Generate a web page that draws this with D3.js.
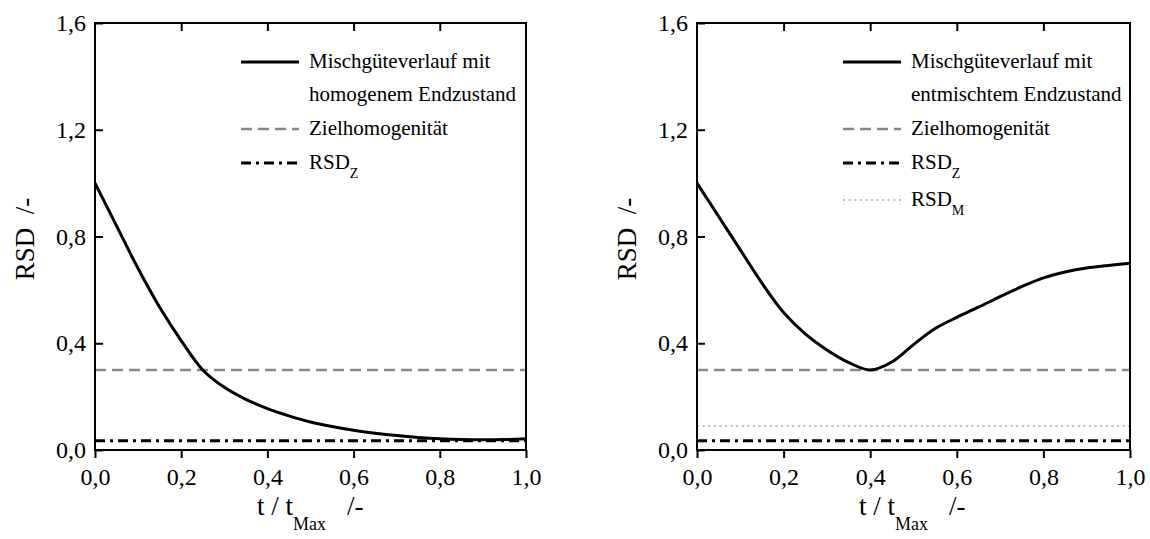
<!DOCTYPE html>
<html>
<head>
<meta charset="utf-8" />
<title>RSD</title>
<style>
  body { margin: 0; background: #fff; }
  svg text { font-family: "Liberation Serif", Tinos, "Times New Roman", Times, "DejaVu Serif", serif; fill: #000; }
</style>
</head>
<body>
<div id="chart"></div>
<script src="https://d3js.org/d3.v7.min.js"></script>
<script>
// values
const tValues = [0, 0.05, 0.1, 0.15, 0.2, 0.25, 0.3, 0.35, 0.4, 0.45, 0.5,
                 0.55, 0.6, 0.65, 0.7, 0.75, 0.8, 0.85, 0.9, 0.95, 1.0];
const rsdHomogen = [1.0, 0.84, 0.68, 0.535, 0.41, 0.30, 0.235, 0.19, 0.155, 0.128, 0.105,
                    0.088, 0.074, 0.063, 0.054, 0.047, 0.042, 0.039, 0.038, 0.039, 0.042];
const rsdEntmischt = [1.0, 0.875, 0.75, 0.625, 0.515, 0.435, 0.375, 0.328, 0.30, 0.33, 0.395,
                      0.455, 0.497, 0.535, 0.575, 0.612, 0.645, 0.667, 0.682, 0.691, 0.70];
const zielHomogenitaet = 0.3;
const rsdZ = 0.035;
const rsdM = 0.09;
const xTicks = [0, 0.2, 0.4, 0.6, 0.8, 1.0];
const yTicks = [0, 0.4, 0.8, 1.2, 1.6];

const W = 1150, H = 539;
const plotTop = 23, plotBottom = 450;
const serif = '"Liberation Serif", Tinos, "Times New Roman", Times, "DejaVu Serif", serif';

const de = d3.formatLocale({decimal: ",", thousands: ".", grouping: [3], currency: ["", " €"]});
const fmt = de.format(".1f");

const svg = d3.select("#chart").append("svg")
  .attr("width", W).attr("height", H)
  .style("font-family", serif);

const styles = {
  ziel: {stroke: "#888", width: 2.5, dash: "11,6"},
  z: {stroke: "#000", width: 3, dash: "10,5,3,5"},
  m: {stroke: "#bdbdbd", width: 2.2, dash: "2,3.6"}
};

function drawPanel(left, right, series, legendRows) {
  const x = d3.scaleLinear().domain([0, 1]).range([left, right]);
  const y = d3.scaleLinear().domain([0, 1.6]).range([plotBottom, plotTop]);
  const g = svg.append("g");

  // horizontal reference lines
  const hline = (v, st) => g.append("line")
    .attr("x1", x(0)).attr("x2", x(1))
    .attr("y1", y(v)).attr("y2", y(v))
    .attr("stroke", st.stroke).attr("stroke-width", st.width)
    .attr("stroke-dasharray", st.dash);
  hline(zielHomogenitaet, styles.ziel);
  if (legendRows.some(r => r.key === "m")) hline(rsdM, styles.m);
  hline(rsdZ, styles.z);

  // curve
  const line = d3.line()
    .x((d, i) => x(tValues[i]))
    .y(d => y(d))
    .curve(d3.curveCatmullRom.alpha(0.5));
  g.append("path")
    .datum(series)
    .attr("d", line)
    .attr("fill", "none")
    .attr("stroke", "#000")
    .attr("stroke-width", 3);

  // axes
  g.append("g").attr("transform", `translate(0,${plotBottom})`)
    .call(d3.axisBottom(x).tickValues(xTicks).tickFormat(fmt).tickSize(8).tickPadding(10));
  g.append("g").attr("transform", `translate(${left},0)`)
    .call(d3.axisLeft(y).tickValues(yTicks).tickFormat(fmt).tickSize(-8).tickPadding(9));
  g.append("g").attr("transform", `translate(0,${plotTop})`)
    .call(d3.axisTop(x).tickValues(xTicks.slice(1, -1)).tickFormat("").tickSize(-8));
  g.selectAll(".domain").remove();
  g.selectAll("g").attr("font-family", null).attr("font-size", null);
  g.selectAll(".tick line").attr("stroke", "#000").attr("stroke-width", 2);
  g.selectAll(".tick text").style("font-size", "24px").attr("fill", "#000");

  g.append("rect")
    .attr("x", left).attr("y", plotTop)
    .attr("width", right - left).attr("height", plotBottom - plotTop)
    .attr("fill", "none").attr("stroke", "#000").attr("stroke-width", 2);

  // axis titles
  g.append("text")
    .attr("transform", `translate(${left - 61},239) rotate(-90)`)
    .attr("text-anchor", "middle")
    .style("font-size", "27px")
    .style("white-space", "pre")
    .text("RSD  /-");

  const xt = g.append("text")
    .attr("x", left + 162).attr("y", 515)
    .style("font-size", "27px");
  xt.append("tspan").text("t / t");
  xt.append("tspan").style("font-size", "18px").attr("dy", 15).text("Max");
  xt.append("tspan").attr("x", left + 252).attr("dy", -15).text("/-");

  // legend
  const lx0 = left + 146, lx1 = left + 204, tx = left + 214;
  legendRows.forEach(r => {
    if (r.key) {
      const st = r.key === "curve" ? {stroke: "#000", width: 3, dash: null} : styles[r.key];
      g.append("line")
        .attr("x1", lx0).attr("x2", lx1)
        .attr("y1", r.y - 6).attr("y2", r.y - 6)
        .attr("stroke", st.stroke).attr("stroke-width", st.width)
        .attr("stroke-dasharray", st.dash);
    }
    const t = g.append("text").attr("x", tx).attr("y", r.y).style("font-size", "21px");
    t.append("tspan").text(r.label);
    if (r.sub) t.append("tspan").style("font-size", "14px").attr("dy", 9).text(r.sub);
  });
}

drawPanel(95, 526, rsdHomogen, [
  {key: "curve", y: 68, label: "Mischgüteverlauf mit"},
  {key: null, y: 101, label: "homogenem Endzustand"},
  {key: "ziel", y: 135, label: "Zielhomogenität"},
  {key: "z", y: 169, label: "RSD", sub: "Z"}
]);

drawPanel(697, 1130, rsdEntmischt, [
  {key: "curve", y: 68, label: "Mischgüteverlauf mit"},
  {key: null, y: 101, label: "entmischtem Endzustand"},
  {key: "ziel", y: 135, label: "Zielhomogenität"},
  {key: "z", y: 169, label: "RSD", sub: "Z"},
  {key: "m", y: 206, label: "RSD", sub: "M"}
]);
</script>
</body>
</html>
